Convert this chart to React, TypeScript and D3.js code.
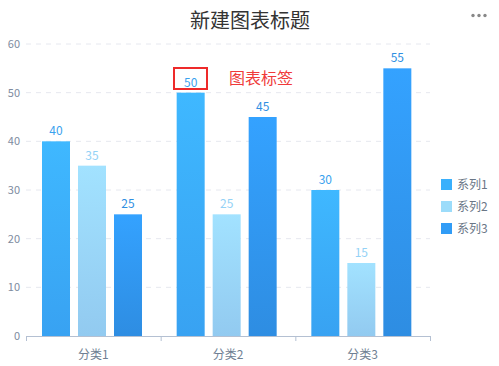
import React from "react";
import * as d3 from "d3";

const categories = ["分类1", "分类2", "分类3"];
const seriesNames = ["系列1", "系列2", "系列3"];
const series1 = [40, 50, 30];
const series2 = [35, 25, 15];
const series3 = [25, 45, 55];
const yTicks = [0, 10, 20, 30, 40, 50, 60];

const seriesValues = [series1, series2, series3];
const gradTop = ["#3fb8ff", "#a2e2ff", "#34a2ff"];
const gradBottom = ["#38a2f2", "#92caf0", "#2e8de2"];
const labelColors = ["#3aa2ee", "#94d2f6", "#2f8fe2"];
const legendColors = ["#3ab0fc", "#9cdcfa", "#319cf6"];

const W = 499;
const H = 366;
const FONT = "'Noto Sans CJK SC', 'Noto Sans', sans-serif";

export default function App() {
  const x0 = d3.scaleBand<string>().domain(categories).range([26, 430]).paddingInner(0).paddingOuter(0);
  const x1 = d3.scaleBand<string>().domain(seriesNames).range([16, 116]).paddingInner(8 / 36).paddingOuter(0);
  const y = d3.scaleLinear().domain([0, 60]).range([336, 44]);

  const catTicks = [...categories.map((c) => x0(c) as number), 430];

  return (
    <svg width={W} height={H} style={{ position: "absolute", left: 0, top: 0, fontFamily: FONT }}>
      <defs>
        {seriesNames.map((s, i) => (
          <linearGradient key={s} id={`g${i}`} x1="0" y1="0" x2="0" y2="1">
            <stop offset="0%" stopColor={gradTop[i]} />
            <stop offset="100%" stopColor={gradBottom[i]} />
          </linearGradient>
        ))}
      </defs>
      <rect width={W} height={H} fill="#fff" />
      <text x={250} y={28} textAnchor="middle" fontSize={20} fill="#333">新建图表标题</text>
      {[473, 479, 485].map((cx) => (
        <circle key={cx} cx={cx} cy={15.5} r={1.7} fill="#888" />
      ))}
      {yTicks.map((t) => (
        <g key={t}>
          {t > 0 && (
            <line x1={26} x2={430} y1={y(t)} y2={y(t)} stroke="#e6e8ef" strokeDasharray="5,5" />
          )}
          <text x={20} y={y(t) + 4} textAnchor="end" fontSize={11} fill="#7e8ba0">{t}</text>
        </g>
      ))}
      {categories.map((c, ci) => (
        <g key={c}>
          {seriesNames.map((s, si) => {
            const v = seriesValues[si][ci];
            const bx = (x0(c) as number) + (x1(s) as number);
            const bw = x1.bandwidth();
            return (
              <g key={s}>
                <rect x={bx} y={y(v)} width={bw} height={y(0) - y(v)} fill={`url(#g${si})`} />
                <text x={bx + bw / 2} y={y(v) - 6} textAnchor="middle" fontSize={12} fill={labelColors[si]}>{v}</text>
              </g>
            );
          })}
          <text x={(x0(c) as number) + x0.bandwidth() / 2} y={359} textAnchor="middle" fontSize={12} fill="#6f7f93">{c}</text>
        </g>
      ))}
      <line x1={26} x2={430} y1={336.5} y2={336.5} stroke="#b4c0d2" />
      {catTicks.map((tx, i) => (
        <line key={i} x1={tx + 0.5} x2={tx + 0.5} y1={336} y2={341} stroke="#b4c0d2" />
      ))}
      <rect x={174} y={68} width={33} height={21} fill="none" stroke="#ee2a2a" strokeWidth={2} />
      <text x={229} y={84} fontSize={16} fill="#f03a3a">图表标签</text>
      {seriesNames.map((s, i) => (
        <g key={s} transform={`translate(441, ${179 + i * 22})`}>
          <rect width={11} height={11} fill={legendColors[i]} />
          <text x={16} y={10} fontSize={12} fill="#6a7686">{s}</text>
        </g>
      ))}
    </svg>
  );
}
